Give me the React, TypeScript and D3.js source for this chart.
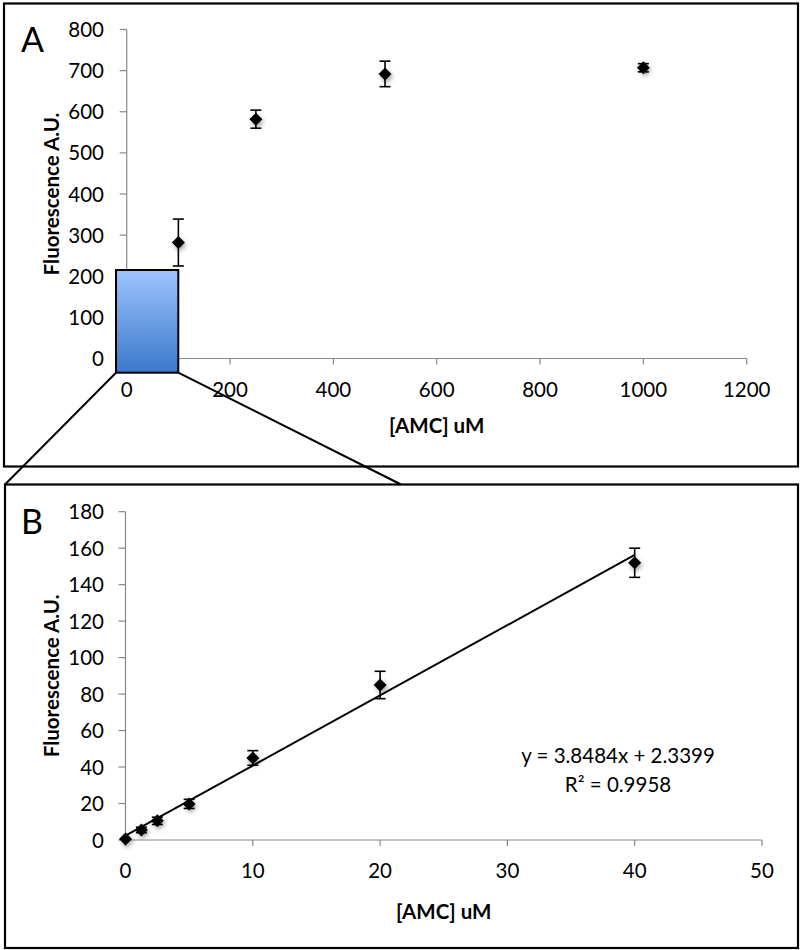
import React from "react";
import * as d3 from "d3";

// Panel A data
const aX = [100, 250, 500, 1000];
const aY = [282, 582, 692, 707];
const aErr = [57, 22, 31, 10];
// Panel B data (also lie under the zoom box in A)
const bX = [0, 1.25, 2.5, 5, 10, 20, 40];
const bY = [0.5, 5.5, 10.5, 19.8, 45, 85, 152];
const bErr = [0, 1.5, 2, 2.5, 4, 7.5, 8];
const aXTicks = [0, 200, 400, 600, 800, 1000, 1200];
const aYTicks = [0, 100, 200, 300, 400, 500, 600, 700, 800];
const bXTicks = [0, 10, 20, 30, 40, 50];
const bYTicks = [0, 20, 40, 60, 80, 100, 120, 140, 160, 180];
const slope = 3.8484;
const intercept = 2.3399;
const eqText = "y = 3.8484x + 2.3399";
const r2Text = "R² = 0.9958";
const yTitle = "Fluorescence A.U.";
const xTitle = "[AMC] uM";

const FONT = "Lato, 'Open Sans', sans-serif";
const AXIS = "#888888";
const TICK_FS = 20.5;
const TITLE_FS = 20.5;

function Marker({ cx, cy, err }: { cx: number; cy: number; err: number }) {
  const s = 6.5;
  return (
    <g>
      {err > 0 && (
        <g stroke="#000" strokeWidth={1.6}>
          <line x1={cx} x2={cx} y1={cy - err} y2={cy + err} />
          <line x1={cx - 5.5} x2={cx + 5.5} y1={cy - err} y2={cy - err} />
          <line x1={cx - 5.5} x2={cx + 5.5} y1={cy + err} y2={cy + err} />
        </g>
      )}
      <path
        d={`M${cx},${cy - s}L${cx + s},${cy}L${cx},${cy + s}L${cx - s},${cy}Z`}
        fill="#000"
        filter="url(#shadow)"
      />
    </g>
  );
}

function Panel({
  x, y, xTicks, yTicks, xs, ys, errs, label, labelY, titleY, fit,
}: any) {
  return (
    <g>
      <line x1={x.range()[0]} x2={x.range()[1]} y1={y(0)} y2={y(0)} stroke={AXIS} strokeWidth={1.2} />
      <line x1={x(0)} x2={x(0)} y1={y.range()[0]} y2={y.range()[1]} stroke={AXIS} strokeWidth={1.2} />
      {xTicks.map((t: number) => (
        <g key={"x" + t}>
          <line x1={x(t)} x2={x(t)} y1={y(0)} y2={y(0) + 6} stroke={AXIS} strokeWidth={1.2} />
          <text x={x(t)} y={y(0) + 38} textAnchor="middle" fontSize={TICK_FS} fontFamily={FONT}>{t}</text>
        </g>
      ))}
      {yTicks.map((t: number) => (
        <g key={"y" + t}>
          <line x1={x(0) - 7} x2={x(0)} y1={y(t)} y2={y(t)} stroke={AXIS} strokeWidth={1.2} />
          <text x={104} y={y(t) + 7.5} textAnchor="end" fontSize={TICK_FS} fontFamily={FONT}>{t}</text>
        </g>
      ))}
      <text
        transform={`translate(58.5,${(y.range()[0] + y.range()[1]) / 2}) rotate(-90)`}
        textAnchor="middle" fontSize={TITLE_FS} fontWeight="bold" fontFamily={FONT}
      >{yTitle}</text>
      <text x={(x.range()[0] + x.range()[1]) / 2} y={titleY} textAnchor="middle" fontSize={TITLE_FS} fontWeight="bold" fontFamily={FONT}>{xTitle}</text>
      <text x={21} y={labelY} fontSize={34} fontFamily={FONT}>{label}</text>
      {fit}
      {xs.map((v: number, i: number) => (
        <Marker key={i} cx={x(v)} cy={y(ys[i])} err={Math.abs(y(ys[i] + errs[i]) - y(ys[i]))} />
      ))}
    </g>
  );
}

export default function App() {
  const ax = d3.scaleLinear().domain([0, 1200]).range([126.7, 746.7]);
  const ay = d3.scaleLinear().domain([0, 800]).range([358.5, 29.5]);
  const bx = d3.scaleLinear().domain([0, 50]).range([125.5, 762]);
  const by = d3.scaleLinear().domain([0, 180]).range([840, 511.7]);

  const line = d3.line<number>().x((d) => bx(d)).y((d) => by(slope * d + intercept));
  const fitPath = <path d={line([0, 40]) || ""} stroke="#000" strokeWidth={2} fill="none" />;

  const boxX0 = 116, boxX1 = 178.3, boxY0 = 270, boxY1 = 372.7;

  return (
    <svg width={800} height={950} style={{ display: "block", position: "absolute", left: 0, top: 0 }}>
      <defs>
        <filter id="shadow" x="-50%" y="-50%" width="200%" height="200%">
          <feDropShadow dx={1.5} dy={2.5} stdDeviation={2} floodColor="#000" floodOpacity={0.35} />
        </filter>
        <linearGradient id="boxGrad" x1="0" y1="0" x2="0" y2="1">
          <stop offset="0%" stopColor="#9ec4ff" />
          <stop offset="100%" stopColor="#3a78c9" />
        </linearGradient>
      </defs>
      <rect x={0} y={0} width={800} height={950} fill="#fff" />
      <rect x={4} y={3.5} width={794} height={463} fill="none" stroke="#000" strokeWidth={2.2} />
      <Panel x={ax} y={ay} xTicks={aXTicks} yTicks={aYTicks} xs={[...bX, ...aX]} ys={[...bY, ...aY]} errs={[...bErr, ...aErr]} label="A" labelY={52} titleY={433} />
      <rect x={boxX0} y={boxY0} width={boxX1 - boxX0} height={boxY1 - boxY0} fill="url(#boxGrad)" stroke="#000" strokeWidth={2} />
      <rect x={5} y={484.5} width={793} height={463.5} fill="none" stroke="#000" strokeWidth={2.2} />
      <Panel x={bx} y={by} xTicks={bXTicks} yTicks={bYTicks} xs={bX} ys={bY} errs={bErr} label="B" labelY={533.5} titleY={919} fit={fitPath} />
      <text x={618} y={763} textAnchor="middle" fontSize={TICK_FS} fontFamily={FONT}>{eqText}</text>
      <text x={618} y={792} textAnchor="middle" fontSize={TICK_FS} fontFamily={FONT}>{r2Text}</text>
      <line x1={boxX0} y1={boxY1} x2={5} y2={484.5} stroke="#000" strokeWidth={2} />
      <line x1={boxX1} y1={boxY1} x2={401} y2={484.5} stroke="#000" strokeWidth={2} />
    </svg>
  );
}
